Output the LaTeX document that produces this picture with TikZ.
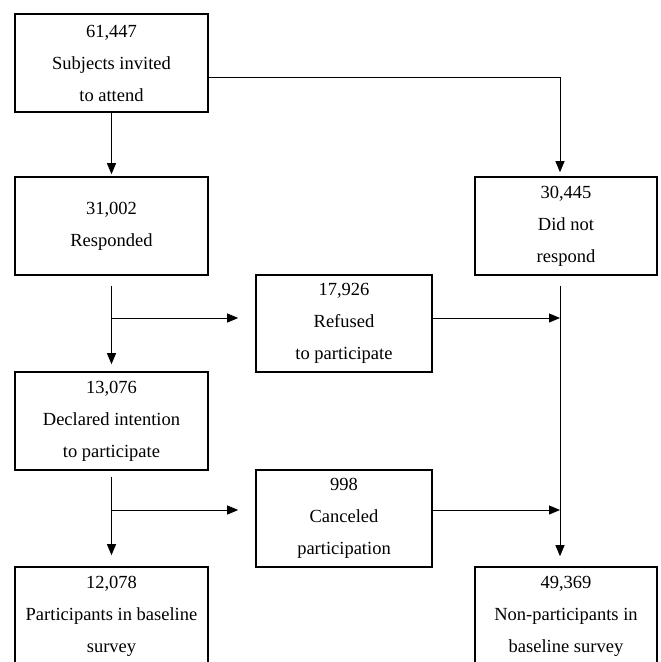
\documentclass[tikz,border=0pt]{standalone}
\usepackage{fontspec}
\setmainfont{Liberation Serif}
\usetikzlibrary{arrows.meta}

\begin{document}
\begin{tikzpicture}[
x=1pt, y=-1pt,
box/.style={draw, line width=1.6pt, minimum width=193pt, minimum height=98pt,
    inner sep=0pt, align=center, font=\fontsize{18.5}{32}\selectfont},
side/.style={box, minimum width=176pt, minimum height=97pt},
right box/.style={box, minimum width=182pt},
conn/.style={line width=1pt},
arr/.style={conn, -{Triangle[length=11pt,width=9pt]}}
]
\useasboundingbox (0,0) rectangle (661,662);
\clip (0,0) rectangle (661,662);

\node[box] (invited) at (111.5,63) {61,447\\Subjects invited\\to attend};
\node[box] (responded) at (111.5,226) {31,002\\Responded};
\node[right box] (norespond) at (566,226) {30,445\\Did not\\respond};
\node[side] (refused) at (344,323.5) {17,926\\Refused\\to participate};
\node[box] (intention) at (111.5,421) {13,076\\Declared intention\\to participate};
\node[side] (canceled) at (344,518.5) {998\\Canceled\\participation};
\node[box] (baseline) at (111.5,616) {12,078\\Participants in baseline\\survey};
\node[right box] (nonpart) at (566,616) {49,369\\Non-participants in\\baseline survey};

\coordinate (rsplit) at (111.5,318);
\coordinate (isplit) at (111.5,510);
\coordinate (rtop) at ([xshift=-6pt,yshift=-10pt]norespond.south);

\draw[arr, shorten >=2pt] (invited) -- (responded);
\draw[arr] ([yshift=-14pt]invited.east) -| ([xshift=-6pt,yshift=4pt]norespond.north);

\draw[arr] ([yshift=-10pt]responded.south) -- ([yshift=7pt]intention.north);
\draw[arr, shorten >=17pt] (rsplit) -- (rsplit -| refused.west);
\draw[arr] (rsplit -| refused.east) -- (rsplit -| rtop);

\draw[arr] ([yshift=-6pt]intention.south) -- ([yshift=11pt]baseline.north);
\draw[arr, shorten >=17pt] (isplit) -- (isplit -| canceled.west);
\draw[arr] (isplit -| canceled.east) -- (isplit -| rtop);

\draw[arr, shorten >=10pt] (rtop) -- (rtop |- nonpart.north);

\end{tikzpicture}
\end{document}
